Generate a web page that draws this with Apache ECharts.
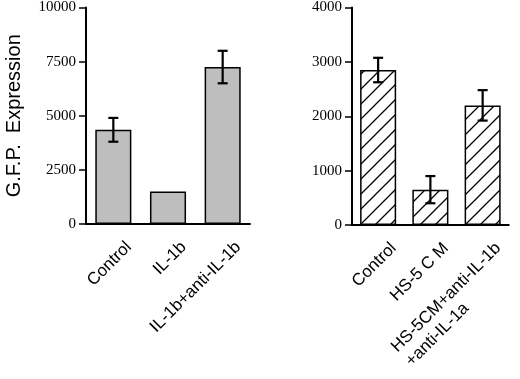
<!DOCTYPE html>
<html>
<head>
<meta charset="utf-8">
<script src="https://cdn.jsdelivr.net/npm/echarts@6/dist/echarts.min.js"></script>
<style>
  html, body { margin: 0; padding: 0; background: #fff; }
  #chart { width: 520px; height: 379px; }
</style>
</head>
<body>
<div id="chart"></div>
<script>
// left panel: IL-1b experiment
var leftCats = ['Control', 'IL-1b', 'IL-1b+anti-IL-1b'];
var leftMeans = [4350, 1500, 7250];
var leftErr = [550, 0, 750];
var leftTicks = { max: 10000, interval: 2500 };

// right panel: HS-5 conditioned medium
var rightCats = ['Control', 'HS-5 C M', 'HS-5CM+anti-IL-1b\n+anti-IL-1a'];
var rightMeans = [2850, 650, 2200];
var rightErr = [225, 250, 280];
var rightTicks = { max: 4000, interval: 1000 };

var yName = 'G.F.P.  Expression';

var labelFont = '17px "Liberation Sans", Arial, sans-serif';
var numFont = '"Liberation Serif", "Times New Roman", serif';

// hatch pattern for right bars
function makeHatch() {
  var s = 15;
  var c = document.createElement('canvas');
  c.width = s; c.height = s;
  var g = c.getContext('2d');
  g.fillStyle = '#fff';
  g.fillRect(0, 0, s, s);
  g.strokeStyle = '#000';
  g.lineWidth = 1.3;
  g.beginPath();
  g.moveTo(-1, s + 1); g.lineTo(s + 1, -1);
  g.moveTo(-2, 2); g.lineTo(2, -2);
  g.moveTo(s - 2, s + 2); g.lineTo(s + 2, s - 2);
  g.stroke();
  return c;
}

// width of first line of the two-line label, so both lines start together
function textWidth(t) {
  var c = document.createElement('canvas').getContext('2d');
  c.font = labelFont;
  return Math.ceil(c.measureText(t).width);
}

function errData(means, errs) {
  var out = [];
  for (var i = 0; i < means.length; i++) {
    out.push([i, means[i] - errs[i], means[i] + errs[i], errs[i]]);
  }
  return out;
}

function renderErr(params, api) {
  if (!api.value(3)) return;
  var lo = api.coord([api.value(0), api.value(1)]);
  var hi = api.coord([api.value(0), api.value(2)]);
  var w = 5;
  var st = { stroke: '#000', lineWidth: 2.2 };
  return {
    type: 'group',
    children: [
      { type: 'line', shape: { x1: lo[0], y1: lo[1], x2: hi[0], y2: hi[1] }, style: st },
      { type: 'line', shape: { x1: lo[0] - w, y1: lo[1], x2: lo[0] + w, y2: lo[1] }, style: st },
      { type: 'line', shape: { x1: hi[0] - w, y1: hi[1], x2: hi[0] + w, y2: hi[1] }, style: st }
    ]
  };
}

var w1 = textWidth('HS-5CM+anti-IL-1b');

function xAxisFor(idx, cats) {
  return {
    type: 'category',
    gridIndex: idx,
    data: cats,
    axisLine: { lineStyle: { color: '#000', width: 2 } },
    axisTick: { alignWithLabel: true, length: 8, lineStyle: { color: '#000', width: 2 } },
    axisLabel: {
      rotate: 45,
      interval: 0,
      margin: 5,
      color: '#000',
      fontFamily: '"Liberation Sans", Arial, sans-serif',
      fontSize: 17,
      lineHeight: 20,
      verticalAlign: 'top',
      padding: [12, 0, 0, 0],
      formatter: function (v) {
        if (v.indexOf('\n') < 0) return v;
        var p = v.split('\n');
        return '{a|' + p[0] + '}\n{a|' + p[1] + '}';
      },
      rich: {
        a: { width: w1, align: 'left', fontSize: 17, lineHeight: 20,
             fontFamily: '"Liberation Sans", Arial, sans-serif', color: '#000' }
      }
    }
  };
}

function yAxisFor(idx, t, name) {
  return {
    type: 'value',
    gridIndex: idx,
    min: 0,
    max: t.max,
    interval: t.interval,
    name: name,
    nameLocation: 'middle',
    nameGap: 62,
    nameTextStyle: { fontSize: 20, color: '#000', fontFamily: '"Liberation Sans", Arial, sans-serif' },
    splitLine: { show: false },
    axisLine: { show: true, lineStyle: { color: '#000', width: 2 } },
    axisTick: { show: true, length: 7, lineStyle: { color: '#000', width: 1.5 } },
    axisLabel: {
      margin: 10, color: '#000', fontSize: 15, fontFamily: numFont,
      formatter: function (v) { return String(v); }
    }
  };
}

var chart = echarts.init(document.getElementById('chart'));
chart.setOption({
  backgroundColor: '#fff',
  animation: false,
  grid: [
    { left: 86, top: 7, width: 164, height: 217 },
    { left: 352, top: 7, width: 166, height: 218 }
  ],
  xAxis: [xAxisFor(0, leftCats), xAxisFor(1, rightCats)],
  yAxis: [yAxisFor(0, leftTicks, yName), yAxisFor(1, rightTicks, '')],
  series: [
    {
      type: 'bar', xAxisIndex: 0, yAxisIndex: 0,
      data: leftMeans, barWidth: '66%',
      itemStyle: { color: '#bebebe', borderColor: '#000', borderWidth: 1.5 }
    },
    {
      type: 'custom', xAxisIndex: 0, yAxisIndex: 0, z: 5,
      data: errData(leftMeans, leftErr), renderItem: renderErr
    },
    {
      type: 'bar', xAxisIndex: 1, yAxisIndex: 1,
      data: rightMeans, barWidth: '69%',
      itemStyle: { color: { image: makeHatch(), repeat: 'repeat' }, borderColor: '#000', borderWidth: 1.5 }
    },
    {
      type: 'custom', xAxisIndex: 1, yAxisIndex: 1, z: 5,
      data: errData(rightMeans, rightErr), renderItem: renderErr
    }
  ]
});
</script>
</body>
</html>
